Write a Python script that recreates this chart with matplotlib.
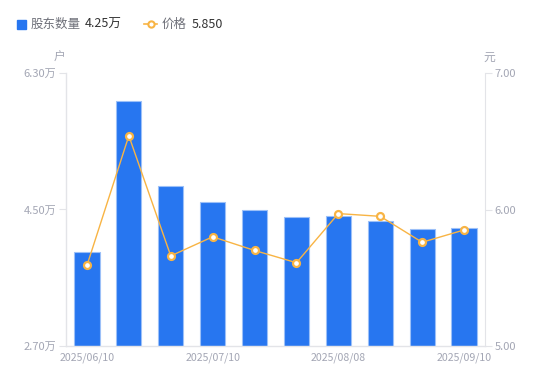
import matplotlib
matplotlib.use("Agg")
import matplotlib.pyplot as plt
from matplotlib.lines import Line2D

plt.rcParams['font.family'] = ['Noto Sans CJK SC', 'DejaVu Sans']

dates = ["2025/06/10", "2025/06/20", "2025/06/30", "2025/07/10", "2025/07/20",
         "2025/07/31", "2025/08/08", "2025/08/20", "2025/08/31", "2025/09/10"]
holders = [3.94, 5.93, 4.81, 4.60, 4.49, 4.40, 4.42, 4.35, 4.24, 4.25]  # 万户
prices = [5.59, 6.54, 5.66, 5.80, 5.70, 5.61, 5.97, 5.95, 5.76, 5.85]
left_ticks = [2.70, 4.50, 6.30]
right_ticks = [5.00, 6.00, 7.00]
shown_idx = [0, 3, 6, 9]

BLUE = "#2776F0"
EDGE = "#9CC0F8"
ORANGE = "#F8B444"
GRAY = "#A3A6B4"
AXIS = "#E3E4E8"

fig = plt.figure(figsize=(5.5, 3.81), dpi=100)
ax = fig.add_axes([66/550, 1-346/381, (485-66)/550, (346-73)/381])
x = list(range(len(dates)))
ax.bar(x, [h - left_ticks[0] for h in holders], bottom=left_ticks[0], width=0.6,
       color=BLUE, edgecolor=EDGE, linewidth=0.8, zorder=2)
ax.set_xlim(-0.5, len(dates) - 0.5)
ax.set_ylim(left_ticks[0], left_ticks[-1])
ax.set_yticks(left_ticks)
ax.set_yticklabels([f"{v:.2f}万" for v in left_ticks])
ax.set_xticks([x[i] for i in shown_idx])
ax.set_xticklabels([dates[i] for i in shown_idx])
ax.tick_params(axis='x', length=0, pad=5, labelsize=7.6, labelcolor=GRAY)
ax.tick_params(axis='y', length=5, width=0.8, color=AXIS, pad=2, labelsize=8, labelcolor=GRAY)
for s in ['top', 'right']:
    ax.spines[s].set_visible(False)
for s in ['left', 'bottom']:
    ax.spines[s].set_color(AXIS)
    ax.spines[s].set_linewidth(1)

ax2 = ax.twinx()
ax2.plot(x, prices, color=ORANGE, linewidth=1, marker='o', markersize=5,
         markerfacecolor='white', markeredgecolor=ORANGE, markeredgewidth=1.6, zorder=3)
ax2.set_ylim(right_ticks[0], right_ticks[-1])
ax2.set_yticks(right_ticks)
ax2.set_yticklabels([f"{v:.2f}" for v in right_ticks])
ax2.tick_params(axis='y', length=5, width=0.8, color=AXIS, pad=2, labelsize=8, labelcolor=GRAY)
for s in ['top', 'left', 'bottom']:
    ax2.spines[s].set_visible(False)
ax2.spines['right'].set_color(AXIS)

# unit labels
fig.text(59/550, 1-57/381, "户", ha='center', va='center', fontsize=8.5, color=GRAY)
fig.text(489/550, 1-57/381, "元", ha='center', va='center', fontsize=8.5, color=GRAY)

# legend
fig.patches.append(plt.Rectangle((17/550, 1-29/381), 9/550, 9/381, transform=fig.transFigure,
                                 color=BLUE, figure=fig))
fig.text(31/550, 1-24/381, "股东数量", ha='left', va='center', fontsize=9, color="#6E7079")
fig.text(85/550, 1-24/381, f"{holders[-1]:.2f}万", ha='left', va='center', fontsize=9, color="#333333")
fig.add_artist(Line2D([144/550, 157/550], [1-24/381, 1-24/381], transform=fig.transFigure,
                      color=ORANGE, linewidth=1.2))
fig.add_artist(Line2D([150.5/550], [1-24/381], transform=fig.transFigure, marker='o', markersize=4.5,
                      markerfacecolor='white', markeredgecolor=ORANGE, markeredgewidth=1.5))
fig.text(162/550, 1-24/381, "价格", ha='left', va='center', fontsize=9, color="#6E7079")
fig.text(192/550, 1-24/381, f"{prices[-1]:.3f}", ha='left', va='center', fontsize=9, color="#333333")

fig.savefig("out.png", dpi=100)
